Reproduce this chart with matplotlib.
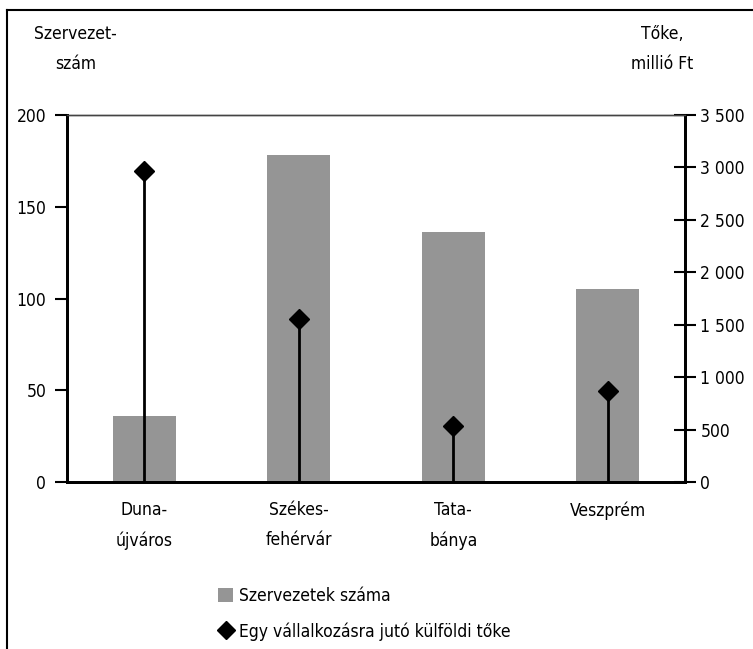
import numpy as np
import matplotlib
matplotlib.use('Agg')
from matplotlib import pyplot as plt
from matplotlib.lines import Line2D
from matplotlib.patches import Patch

plt.rcParams['font.family'] = ['DejaVu Sans']
plt.rcParams['font.stretch'] = 'condensed'
plt.rcParams['font.size'] = 12.5

cities = ['Duna-\nújváros', 'Székes-\nfehérvár', 'Tata-\nbánya', 'Veszprém']
org_count = [36, 178, 136, 105]
capital = [2970, 1550, 530, 870]

bar_color = '#959595'

fig = plt.figure(figsize=(7.53, 6.49), dpi=100)
ax = fig.add_axes([0.089, 0.2573, 0.8208, 0.5655])
ax2 = ax.twinx()

x = np.arange(len(cities))
ax.bar(x, org_count, width=0.41, color=bar_color, zorder=1)
ax.set_xlim(-0.5, len(cities) - 0.5)
ax.set_ylim(0, 200)
ax.set_yticks([0, 50, 100, 150, 200])
ax.set_xticks(x)
ax.set_xticklabels(cities, linespacing=1.85)
ax.tick_params(axis='x', length=0, pad=14)
ax.tick_params(axis='y', direction='out', length=9, width=1.5, pad=6)

ax2.vlines(x, 0, capital, color='black', linewidth=2)
ax2.plot(x, capital, linestyle='none', marker='D', markersize=10, color='black')
ax2.set_ylim(0, 3500)
ax2.set_yticks(range(0, 3501, 500))
ax2.set_yticklabels(['0', '500', '1 000', '1 500', '2 000', '2 500', '3 000', '3 500'])
ax2.tick_params(axis='y', direction='inout', length=16, width=1.5, pad=3)

for a in (ax, ax2):
    for side in ('left', 'right', 'bottom'):
        a.spines[side].set_linewidth(2)
    a.spines['top'].set_linewidth(1)
    a.spines['top'].set_color('#444444')

fig.text(0.100, 0.962, 'Szervezet-\nszám', ha='center', va='top', linespacing=1.85)
fig.text(0.879, 0.962, 'Tőke,\nmillió Ft', ha='center', va='top', linespacing=1.85)

# outer frame (left and top only)
fig.add_artist(Line2D([0.0095, 0.0095], [0, 0.985], color='black', linewidth=1.5))
fig.add_artist(Line2D([0.0095, 1.0], [0.985, 0.985], color='black', linewidth=1.5))

handles = [Patch(facecolor=bar_color, edgecolor='none'),
           Line2D([], [], linestyle='none', marker='D', markersize=9, color='black')]
labels = ['Szervezetek száma', 'Egy vállalkozásra jutó külföldi tőke']
fig.legend(handles, labels, loc='upper left', bbox_to_anchor=(0.28, 0.106),
           frameon=False, handlelength=0.9, handleheight=0.9, handletextpad=0.3,
           labelspacing=1.0, borderaxespad=0)

fig.savefig('out.png', dpi=100)
